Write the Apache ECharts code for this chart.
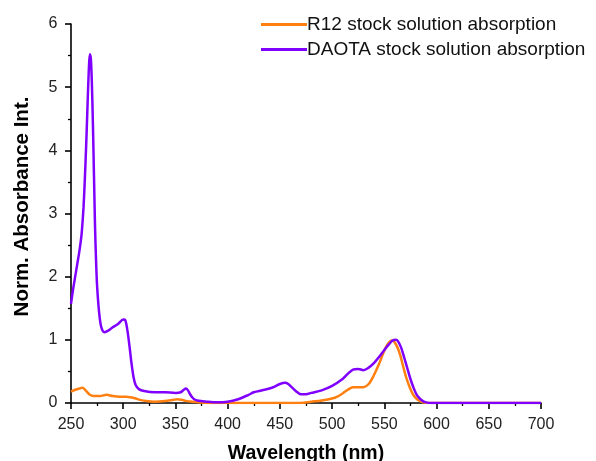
<!DOCTYPE html>
<html><head><meta charset="utf-8">
<script src="https://cdn.jsdelivr.net/npm/echarts@6/dist/echarts.min.js"></script>
<style>html,body{margin:0;padding:0;background:#fff}#c{width:596px;height:461px}</style>
</head><body><div id="c"></div>
<script>
const seriesNames = ['R12 stock solution absorption', 'DAOTA stock solution absorption'];
const r12X = [250,254,258,261,264,268,272,278,284,290,297,303,307,312,316,322,330,340,348,352,356,361,366,372,380,400,440,470,480,490,500,505,510,515,520,525,530,535,540,545,549,552,555,557,559,562,565,568,571,574,577,580,583,587,592,600,650,700];
const r12Y = [0.18,0.21,0.23,0.24,0.2,0.13,0.11,0.11,0.13,0.11,0.1,0.1,0.09,0.07,0.05,0.03,0.02,0.03,0.05,0.06,0.05,0.03,0.02,0.01,0,0,0,0,0.02,0.04,0.07,0.1,0.15,0.21,0.25,0.25,0.25,0.3,0.44,0.62,0.79,0.9,0.97,0.99,0.98,0.9,0.77,0.58,0.4,0.26,0.15,0.08,0.04,0.01,0,0,0,0];
const daotaX = [250,252,254,256,258,260,261,262,263,264,265,266,267,268,269,270,271,272,273,274,275,277,279,282,286,290,295,300,302,304,306,308,310,312,315,320,330,340,350,355,358,360,362,364,366,368,371,375,380,390,400,410,420,425,430,440,445,450,455,458,462,466,470,475,480,490,500,510,515,520,525,530,535,540,545,550,555,558,561,563,566,569,572,575,578,581,584,587,590,595,600,620,650,680,700];
const daotaY = [1.57,1.8,2.0,2.2,2.4,2.65,2.85,3.1,3.45,3.85,4.3,4.8,5.25,5.52,5.45,5.05,4.4,3.6,2.8,2.25,1.85,1.42,1.2,1.12,1.15,1.2,1.25,1.32,1.31,1.15,0.9,0.62,0.4,0.28,0.22,0.19,0.17,0.17,0.16,0.17,0.21,0.23,0.2,0.14,0.09,0.06,0.04,0.03,0.02,0.01,0.02,0.06,0.13,0.17,0.19,0.23,0.26,0.3,0.32,0.3,0.24,0.18,0.14,0.14,0.16,0.2,0.27,0.38,0.46,0.53,0.54,0.52,0.56,0.63,0.73,0.84,0.94,0.99,1.0,0.98,0.88,0.72,0.55,0.38,0.24,0.13,0.07,0.03,0.01,0,0,0,0,0,0];
const xTicks = [250,300,350,400,450,500,550,600,650,700];
const yTicks = [0,1,2,3,4,5,6];

const pair = (xs, ys) => xs.map((x, i) => [x, ys[i]]);
const FONT = '"Liberation Sans", Arial, sans-serif';
const chart = echarts.init(document.getElementById('c'), null, {renderer: 'canvas'});
const axisCommon = {
  axisLine: {show: true, lineStyle: {color: '#000', width: 1.6}},
  axisTick: {show: true, length: 6, lineStyle: {color: '#000', width: 1.6}},
  minorTick: {show: true, splitNumber: 2, length: 3, lineStyle: {color: '#000', width: 1.3}},
  splitLine: {show: false}
};
chart.setOption({
  animation: false,
  backgroundColor: '#fff',
  grid: {left: 71, right: 55, top: 24, bottom: 58, containLabel: false, outerBoundsMode: 'none'},
  legend: {
    orient: 'vertical', left: 256, top: 10, itemGap: 6,
    itemWidth: 46, itemHeight: 3, icon: 'rect',
    textStyle: {fontFamily: FONT, fontSize: 19, color: '#111', lineHeight: 19, padding: [0,0,0,-5]},
    data: seriesNames
  },
  xAxis: Object.assign({
    type: 'value', min: xTicks[0], max: xTicks[xTicks.length-1], interval: 50,
    name: 'Wavelength (nm)', nameLocation: 'middle', nameGap: 41,
    nameTextStyle: {fontFamily: FONT, fontWeight: 'bold', fontSize: 19.5, color: '#000'},
    axisLabel: {fontFamily: FONT, fontSize: 16, color: '#222', margin: 14,
      formatter: v => xTicks.includes(v) ? String(v) : ''}
  }, axisCommon),
  yAxis: Object.assign({
    type: 'value', min: yTicks[0], max: yTicks[yTicks.length-1], interval: 1,
    name: 'Norm. Absorbance Int.', nameLocation: 'middle', nameGap: 38,
    nameTextStyle: {fontFamily: FONT, fontWeight: 'bold', fontSize: 20.5, color: '#000', padding: [0,0,0,14]},
    axisLabel: {fontFamily: FONT, fontSize: 16, color: '#222', margin: 13.5,
      formatter: v => yTicks.includes(v) ? String(v) : ''}
  }, axisCommon),
  series: [
    {name: seriesNames[0], type: 'line', data: pair(r12X, r12Y), showSymbol: false, smooth: 0.3,
     lineStyle: {color: '#ff8010', width: 2.5}, itemStyle: {color: '#ff8010'}},
    {name: seriesNames[1], type: 'line', data: pair(daotaX, daotaY), showSymbol: false, smooth: 0.3,
     lineStyle: {color: '#8000ff', width: 2.5}, itemStyle: {color: '#8000ff'}}
  ]
});
</script></body></html>
